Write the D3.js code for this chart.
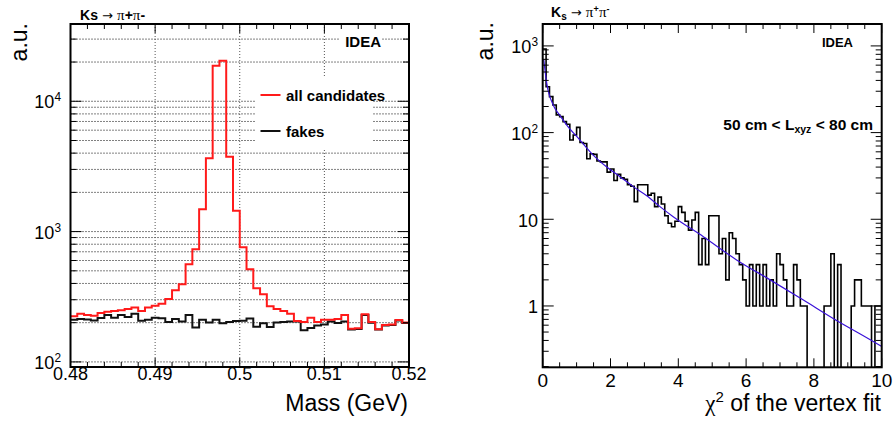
<!DOCTYPE html>
<html>
<head>
<meta charset="utf-8">
<script src="https://cdn.jsdelivr.net/npm/d3@7"></script>
<style>
  html, body { margin: 0; padding: 0; background: #fff; }
  svg { display: block; font-family: "Liberation Sans", Arial, Helvetica, sans-serif; }
</style>
</head>
<body>
<svg id="chart" width="894" height="421"></svg>
<script>
// ---- Invariant-mass spectrum: 50 bins of 0.8 MeV from 0.48 to 0.52 GeV ----
const massRange = [0.48, 0.52];
const massAll = [
  224, 234, 229, 226, 237, 243, 246, 249, 255, 261,
  246, 261, 270, 280, 304, 354, 394, 561, 731, 1483,
  3660, 18700, 20500, 3760, 1445, 757, 514, 367, 330, 267,
  255, 246, 234, 206, 202, 218, 202, 211, 211, 213,
  229, 180, 181, 232, 202, 178, 192, 194, 210, 201
];
const massFakes = [
  211, 213, 212, 208, 217, 229, 218, 229, 221, 234,
  207, 211, 218, 216, 202, 213, 204, 229, 184, 211,
  201, 211, 198, 202, 206, 207, 215, 186, 198, 185,
  201, 202, 204, 204, 175, 182, 190, 194, 204, 199,
  204, 177, 179, 229, 200, 177, 190, 192, 208, 199
];
const massTicks = [0.48, 0.49, 0.50, 0.51, 0.52];
const massTickLabels = ["0.48", "0.49", "0.5", "0.51", "0.52"];
const massLegend = ["all candidates", "fakes"];

// ---- Vertex-fit chi2: 100 bins of 0.1 from 0 to 10 ----
const chi2Range = [0, 10];
const chi2Counts = [
  920, 338, 260, 208, 160, 153, 134, 125, 82, 94,
  115, 77, 75, 50, 57, 56, 47, 46, 46, 35,
  38, 28, 33, 30, 29, 25, 24, 16, 25, 25,
  25, 19, 20, 14, 18, 15, 11, 9, 8.2, 9.5,
  14, 12, 9.5, 7.5, 9.8, 12, 3, 6, 3, 11,
  11, 11, 4, 6, 2, 7, 6, 4, 3, 2,
  1, 3, 1, 3, 1, 3, 1, 2, 1, 4,
  3, 2, 1, 1, 3, 2, 1, 1, 0, 0,
  0, 0, 0, 1, 1, 4, 0, 3, 0, 0,
  0, 1, 2, 2, 1, 1, 1, 0, 1, 1
];
// fitted curve, sampled as (chi2, a.u.)
const chi2FitX = [0.03, 0.12, 0.31, 0.51, 0.71, 1.10, 1.49, 1.89, 2.28, 2.67,
                  3.07, 3.46, 3.85, 4.74, 5.72, 6.71, 7.69, 8.67, 9.65, 10.0];
const chi2FitY = [700, 370, 208, 157, 122, 82, 55, 40, 31, 23.8,
                  18.7, 14, 10.7, 6.3, 3.4, 2.0, 1.17, 0.68, 0.41, 0.34];
const chi2Ticks = [0, 2, 4, 6, 8, 10];

const svg = d3.select("#chart");
svg.append("rect").attr("width", 894).attr("height", 421).attr("fill", "#fff");
const GREEK = '"Liberation Serif", "DejaVu Serif", serif';

// generic helpers -------------------------------------------------------
function logTickValues(lo, hi) {
  const out = [];
  for (let d = Math.floor(Math.log10(lo)); d <= Math.ceil(Math.log10(hi)); d++) {
    for (let m = 1; m <= 9; m++) {
      const v = m * Math.pow(10, d);
      if (v >= lo * 0.9999 && v <= hi * 1.0001) out.push({ v, major: m === 1 });
    }
  }
  return out;
}

function histPath(x, y, lo, hi, vals) {
  const w = (hi - lo) / vals.length;
  const pts = vals.map((v, i) => [lo + i * w, v]);
  pts.push([hi, vals[vals.length - 1]]);
  const yBottom = y.range()[0];
  return d3.line()
    .x(d => x(d[0]))
    .y(d => d[1] > 0 ? y(d[1]) : yBottom + 2)
    .curve(d3.curveStepAfter)(pts);
}

function addClip(id, x0, y0, x1, y1) {
  svg.append("clipPath").attr("id", id)
    .append("rect").attr("x", x0).attr("y", y0).attr("width", x1 - x0).attr("height", y1 - y0);
}

function drawXTicks(g, x, y0, y1, majors, minorStep, majLen, minLen) {
  const [d0, d1] = x.domain();
  const n = Math.round((d1 - d0) / minorStep);
  for (let i = 0; i <= n; i++) {
    const v = d0 + i * minorStep;
    const isMajor = majors.some(m => Math.abs(m - v) < minorStep * 1e-3);
    const L = isMajor ? majLen : minLen;
    const px = x(v);
    g.append("line").attr("x1", px).attr("x2", px).attr("y1", y1).attr("y2", y1 - L);
    g.append("line").attr("x1", px).attr("x2", px).attr("y1", y0).attr("y2", y0 + L);
  }
}

function drawYTicks(g, y, x0, x1, majLen, minLen) {
  const [lo, hi] = y.domain();
  logTickValues(lo, hi).forEach(t => {
    const py = y(t.v);
    const L = t.major ? majLen : minLen;
    g.append("line").attr("x1", x0).attr("x2", x0 + L).attr("y1", py).attr("y2", py);
    g.append("line").attr("x1", x1).attr("x2", x1 - L).attr("y1", py).attr("y2", py);
  });
}

function powLabel(g, xPos, yPos, exp, size) {
  const t = g.append("text").attr("x", xPos).attr("y", yPos)
    .attr("text-anchor", "end").attr("font-size", size).attr("fill", "#000");
  if (exp === 0) { t.text("1"); return; }
  if (exp === 1) { t.text("10"); return; }
  t.append("tspan").text("10");
  t.append("tspan").attr("dy", -7).attr("font-size", size * 0.66).text(String(exp));
}

function piTitle(g, xPos, yPos, sub, supers) {
  const title = g.append("text").attr("x", xPos).attr("y", yPos).attr("font-size", 14).attr("font-weight", "bold");
  title.append("tspan").text("K");
  if (sub) title.append("tspan").attr("dy", 3).attr("font-size", 10).text("s");
  else title.append("tspan").text("s");
  title.append("tspan").attr("dy", sub ? -3 : 0).attr("font-weight", "normal")
    .attr("font-family", "DejaVu Sans").attr("font-size", 13).text(" \u2192 ");
  const charges = ["+", "-"];
  charges.forEach(c => {
    title.append("tspan").attr("font-weight", "normal").attr("font-family", GREEK)
      .attr("font-size", 15).text("\u03C0");
    if (supers) {
      title.append("tspan").attr("dy", -5).attr("font-size", 9).text(c);
      title.append("tspan").attr("dy", 5).attr("font-size", 1).text(" ");
    } else {
      title.append("tspan").text(c);
    }
  });
}

// ======================= LEFT PANEL: mass =============================
{
  const X0 = 70.5, X1 = 409, Y0 = 24, Y1 = 367;
  const x = d3.scaleLinear().domain(massRange).range([X0, X1]);
  const y = d3.scaleLog().domain([91.4, 39170]).range([Y1, Y0]);
  const g = svg.append("g");

  // dotted grid
  const grid = g.append("g").attr("fill", "none").attr("stroke-width", 1)
    .attr("stroke-dasharray", "1,2");
  logTickValues(100, 39170).forEach(t => {
    grid.append("line").attr("x1", X0).attr("x2", X1)
      .attr("y1", y(t.v)).attr("y2", y(t.v)).attr("stroke", "#000");
  });
  massTicks.slice(1, -1).forEach(v => {
    grid.append("line").attr("x1", x(v)).attr("x2", x(v))
      .attr("y1", Y0).attr("y2", Y1).attr("stroke", "#555");
  });

  // legend box and label backgrounds
  g.append("rect").attr("x", 255).attr("y", 77).attr("width", 117).attr("height", 71).attr("fill", "#fff");
  g.append("rect").attr("x", 340).attr("y", 33).attr("width", 42).attr("height", 15).attr("fill", "#fff");

  addClip("clipL", X0, Y0, X1, Y1);
  const hist = g.append("g").attr("clip-path", "url(#clipL)").attr("fill", "none")
    .attr("stroke-width", 2).attr("stroke-linejoin", "miter");
  hist.append("path").attr("d", histPath(x, y, massRange[0], massRange[1], massFakes)).attr("stroke", "#111");
  hist.append("path").attr("d", histPath(x, y, massRange[0], massRange[1], massAll)).attr("stroke", "#ff1a1a");

  // ticks and frame
  const tk = g.append("g").attr("stroke", "#000").attr("stroke-width", 1);
  drawXTicks(tk, x, Y0, Y1, massTicks, 0.002, 9, 5);
  drawYTicks(tk, y, X0, X1, 11, 6);
  g.append("rect").attr("x", X0).attr("y", Y0).attr("width", X1 - X0).attr("height", Y1 - Y0)
    .attr("fill", "none").attr("stroke", "#000").attr("stroke-width", 2);

  // tick labels
  massTicks.forEach((v, i) => {
    g.append("text").attr("x", x(v)).attr("y", 380).attr("text-anchor", "middle")
      .attr("font-size", 18).text(massTickLabels[i]);
  });
  [2, 3, 4].forEach(e => powLabel(g, 61, y(Math.pow(10, e)) + 7, e, 18));

  // titles
  g.append("text").attr("x", 408).attr("y", 411).attr("text-anchor", "end")
    .attr("font-size", 23).text("Mass (GeV)");
  g.append("text").attr("transform", "translate(27,23) rotate(-90)").attr("text-anchor", "end")
    .attr("font-size", 23).text("a.u.");
  piTitle(g, 80, 20, false, false);

  g.append("text").attr("x", 381).attr("y", 46.5).attr("text-anchor", "end")
    .attr("font-size", 15).attr("font-weight", "bold").text("IDEA");

  // legend
  const legColors = ["#ff1a1a", "#111"];
  const legY = [95, 131];
  massLegend.forEach((lab, i) => {
    g.append("line").attr("x1", 260.5).attr("x2", 280.5).attr("y1", legY[i]).attr("y2", legY[i])
      .attr("stroke", legColors[i]).attr("stroke-width", 2);
    g.append("text").attr("x", 286).attr("y", legY[i] + 5.5).attr("font-size", 15)
      .attr("font-weight", "bold").text(lab);
  });
}

// ======================= RIGHT PANEL: chi2 ============================
{
  const X0 = 542.7, X1 = 881.7, Y0 = 24, Y1 = 367.3;
  const x = d3.scaleLinear().domain(chi2Range).range([X0, X1]);
  const y = d3.scaleLog().domain([0.196, 1790]).range([Y1, Y0]);
  const g = svg.append("g");

  addClip("clipR", X0, Y0, X1, Y1);
  const plot = g.append("g").attr("clip-path", "url(#clipR)").attr("fill", "none");
  plot.append("path").attr("d", histPath(x, y, chi2Range[0], chi2Range[1], chi2Counts))
    .attr("stroke", "#000").attr("stroke-width", 1.6);
  const fitPts = chi2FitX.map((v, i) => [v, chi2FitY[i]]);
  plot.append("path")
    .attr("d", d3.line().x(d => x(d[0])).y(d => y(d[1])).curve(d3.curveMonotoneX)(fitPts))
    .attr("stroke", "#3a12d8").attr("stroke-width", 1.2);

  const tk = g.append("g").attr("stroke", "#000").attr("stroke-width", 1);
  drawXTicks(tk, x, Y0, Y1, chi2Ticks, 0.5, 9, 5);
  drawYTicks(tk, y, X0, X1, 11, 6);
  g.append("rect").attr("x", X0).attr("y", Y0).attr("width", X1 - X0).attr("height", Y1 - Y0)
    .attr("fill", "none").attr("stroke", "#000").attr("stroke-width", 2);

  chi2Ticks.forEach(v => {
    g.append("text").attr("x", x(v)).attr("y", 387).attr("text-anchor", "middle")
      .attr("font-size", 19).text(String(v));
  });
  [0, 1, 2, 3].forEach(e => powLabel(g, 538, y(Math.pow(10, e)) + 7.5, e, 18));

  const xt = g.append("text").attr("x", 881).attr("y", 411).attr("text-anchor", "end").attr("font-size", 23);
  xt.append("tspan").attr("font-family", GREEK).text("\u03C7");
  xt.append("tspan").attr("dy", -9).attr("font-size", 15).text("2");
  xt.append("tspan").attr("dy", 9).text(" of the vertex fit");

  g.append("text").attr("transform", "translate(493,22) rotate(-90)").attr("text-anchor", "end")
    .attr("font-size", 23).text("a.u.");

  piTitle(g, 551, 17, true, true);

  g.append("text").attr("x", 853).attr("y", 46.5).attr("text-anchor", "end")
    .attr("font-size", 13).attr("font-weight", "bold").text("IDEA");

  const lab = g.append("text").attr("x", 873).attr("y", 130).attr("text-anchor", "end")
    .attr("font-size", 15.5).attr("font-weight", "bold");
  lab.append("tspan").text("50 cm < L");
  lab.append("tspan").attr("dy", 3).attr("font-size", 10.5).text("xyz");
  lab.append("tspan").attr("dy", -3).text(" < 80 cm");
}
</script>
</body>
</html>
